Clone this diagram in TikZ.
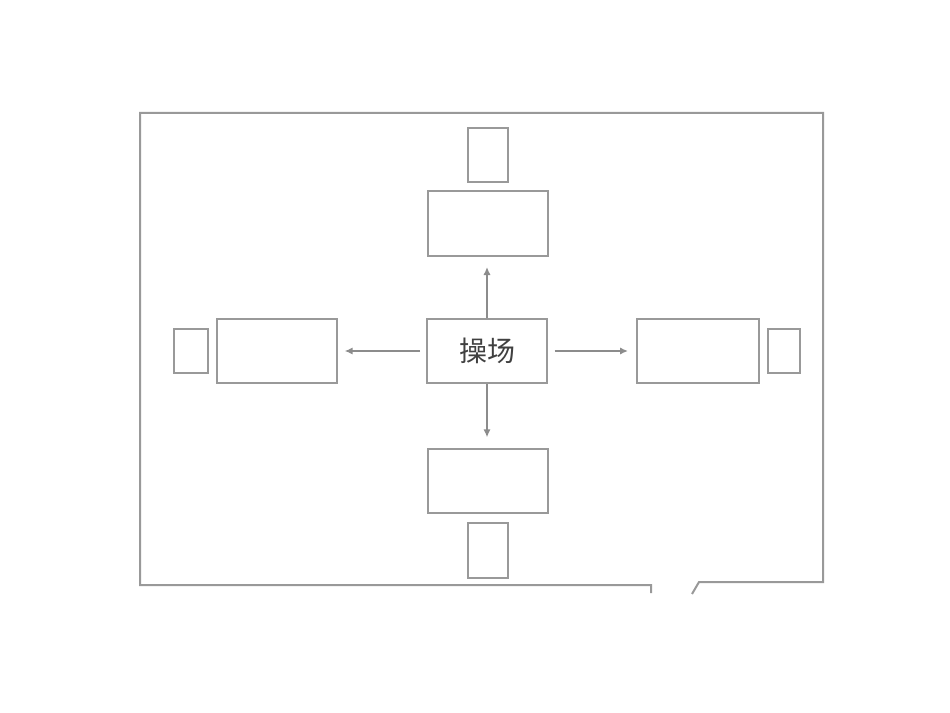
\documentclass[tikz,border=0pt]{standalone}
\usepackage{fontspec}
\newfontfamily\cjk{Noto Sans CJK SC}
\usetikzlibrary{arrows.meta}
\begin{document}
\begin{tikzpicture}[x=0.75pt,y=-0.75pt,
  line/.style={draw=black!40,line width=1.5pt},
  box/.style={line,fill=white,inner sep=0pt,anchor=north west},
  arr/.style={draw=black!45,line width=1.2pt,-{Latex[length=6pt,width=5.5pt]}}]
\useasboundingbox (0,0) rectangle (950,713);
% frame
\draw[line] (651,593) -- (651,585) -- (140,585) -- (140,113) -- (823,113) -- (823,582) -- (699,582) -- (692,594);
% boxes
\node[box,minimum width=90pt,minimum height=48pt] (c) at (426,318) {};
\node[font=\cjk\fontsize{21}{21}\selectfont,text=black!75] (ct) at (c.center) {操场};
\node[box,minimum width=90pt,minimum height=48.75pt] (t) at (427,190) {};
\node[box,minimum width=30pt,minimum height=40.5pt] (ts) at (467,127) {};
\node[box,minimum width=90pt,minimum height=48pt] (b) at (427,448) {};
\node[box,minimum width=30pt,minimum height=41.25pt] (bs) at (467,522) {};
\node[box,minimum width=90pt,minimum height=48pt] (l) at (216,318) {};
\node[box,minimum width=25.5pt,minimum height=33pt] (ls) at (173,328) {};
\node[box,minimum width=91.5pt,minimum height=48pt] (r) at (636,318) {};
\node[box,minimum width=24pt,minimum height=33pt] (rs) at (767,328) {};
% arrows
\draw[arr] (c.north) -- ([yshift=-7.5pt]c.north |- t.south);
\draw[arr] (c.south) -- ([yshift=8pt]c.south |- b.north);
\draw[arr] ([xshift=-4.5pt]c.west) -- ([xshift=5pt]l.east);
\draw[arr] ([xshift=5pt]c.east) -- ([xshift=-6pt]r.west);
\end{tikzpicture}
\end{document}
